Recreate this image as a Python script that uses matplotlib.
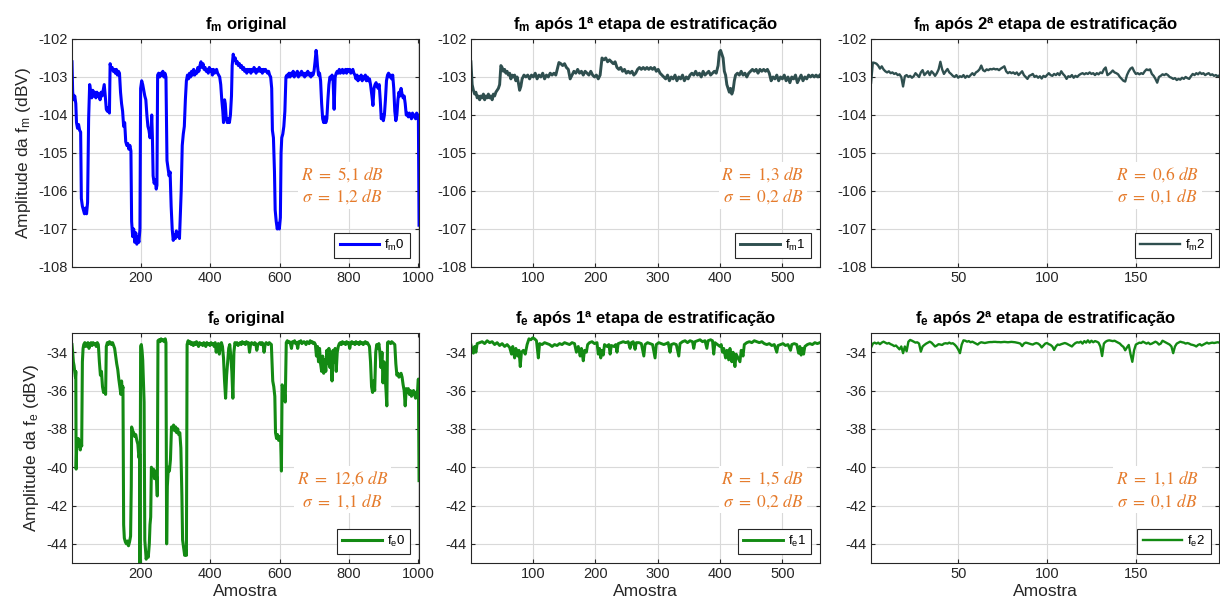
import numpy as np
import matplotlib
matplotlib.use("Agg")
import matplotlib.pyplot as plt

# ---------------- data ----------------
fm0_x = [1,3,6,9,12,14,17,20,23,26,28,31,34,37,40,43,46,49,52,55,58,61,64,67,70,73,76,79,82,85,88,91,94,97,
         100,103,106,109,111,114,117,120,123,126,129,132,135,138,141,144,147,150,153,156,159,162,165,168,171,
         173,176,179,182,185,188,191,194,197,199,202,205,208,211,214,217,220,223,226,229,231,233,235,238,241,244,
         246,248,251,254,257,260,263,266,269,272,275,278,281,284,287,290,293,296,299,302,305,308,311,314,316,319,
         322,325,328,331,334,337,340,343,346,349,352,355,358,361,364,367,370,373,376,379,382,385,388,391,394,397,
         400,403,406,409,412,415,418,421,424,427,430,433,436,438,441,443,446,449,452,455,458,461,463,466,469,472,
         475,478,481,484,487,490,493,496,499,502,505,508,511,514,517,520,523,526,529,532,535,538,541,544,547,550,
         553,556,559,562,565,568,571,574,577,579,582,585,587,590,593,596,599,602,604,606,609,612,615,618,621,624,
         627,630,633,636,639,642,645,648,651,654,657,660,663,666,669,672,675,678,681,684,687,690,693,696,699,702,
         705,707,709,712,715,718,721,724,727,730,733,736,739,742,745,748,751,754,757,760,763,766,769,772,775,778,
         781,784,787,790,793,796,799,802,805,808,811,814,817,820,823,826,829,832,835,838,841,844,847,850,853,856,
         859,862,866,869,872,875,878,881,884,887,890,893,896,899,902,905,908,911,914,917,920,923,926,929,932,935,
         938,941,944,947,950,953,956,959,962,965,968,971,974,977,980,983,986,989,992,995,998,1000,1002]
fm0_y = [-102.6,-103.4,-103.6,-103.5,-103.7,-104.2,-104.35,-104.25,-104.4,-104.45,-106.2,-106.4,-106.5,-106.6,
         -106.45,-106.6,-106.3,-104.1,-103.2,-103.4,-103.55,-103.35,-103.5,-103.4,-103.55,-103.4,-103.5,-103.45,
         -103.6,-103.4,-103.5,-103.35,-103.2,-103.5,-103.85,-103.9,-103.8,-103.95,-102.65,-102.8,-102.75,-102.85,
         -102.8,-102.9,-102.8,-102.95,-102.85,-102.9,-103.4,-103.7,-103.9,-104.3,-104.2,-104.7,-104.8,-104.75,
         -104.9,-104.8,-104.95,-106.8,-107.2,-107.0,-107.35,-107.1,-107.4,-107.2,-107.35,-107.0,-103.3,-103.1,
         -103.2,-103.35,-103.5,-103.6,-104.0,-104.3,-104.4,-104.6,-104.45,-104.0,-104.6,-105.6,-105.8,-105.7,
         -105.95,-105.85,-102.95,-102.9,-103.0,-102.9,-102.95,-102.85,-103.0,-102.9,-103.0,-105.2,-105.4,-105.6,
         -105.5,-106.4,-107.0,-107.3,-107.15,-107.25,-107.05,-107.2,-107.1,-107.25,-106.5,-106.0,-104.8,-104.5,
         -104.3,-103.6,-103.1,-102.95,-103.05,-102.9,-103.0,-102.85,-102.95,-102.8,-102.95,-102.85,-102.9,-102.75,
         -102.85,-102.7,-102.6,-102.75,-102.65,-102.8,-102.75,-102.85,-102.8,-102.9,-102.75,-102.85,-102.8,
         -102.95,-102.8,-102.9,-102.85,-102.8,-102.9,-102.95,-103.0,-103.2,-103.6,-103.9,-104.2,-103.6,-103.7,
         -104.1,-104.2,-104.1,-104.2,-104.0,-103.5,-102.7,-102.4,-102.55,-102.5,-102.65,-102.6,-102.7,-102.65,
         -102.75,-102.7,-102.8,-102.75,-102.85,-102.8,-102.9,-102.8,-102.85,-102.8,-102.9,-102.8,-102.85,-102.75,
         -102.8,-102.9,-102.8,-102.85,-102.75,-102.85,-102.8,-102.9,-102.8,-102.85,-102.8,-102.85,-102.9,-102.85,
         -102.95,-103.0,-103.3,-104.4,-104.6,-105.5,-106.5,-106.8,-107.0,-106.85,-107.0,-106.7,-105.0,-104.6,
         -104.5,-104.3,-103.9,-103.0,-102.95,-103.0,-102.9,-103.0,-102.9,-102.95,-102.85,-103.0,-102.9,-102.95,
         -102.85,-103.0,-102.9,-102.95,-102.85,-102.95,-102.9,-103.0,-102.9,-102.95,-102.85,-102.95,-102.9,
         -103.0,-102.9,-102.95,-102.85,-102.6,-102.3,-102.45,-102.7,-102.95,-102.9,-103.1,-103.7,-104.1,-104.2,
         -104.05,-104.2,-104.1,-103.6,-103.2,-103.0,-103.05,-102.95,-103.1,-103.85,-103.0,-102.9,-102.85,-102.9,
         -102.8,-102.9,-102.85,-102.8,-102.9,-102.85,-102.8,-102.9,-102.8,-102.85,-102.8,-102.9,-102.85,-102.8,
         -102.9,-102.95,-103.05,-102.95,-103.1,-103.0,-103.05,-102.95,-103.1,-103.0,-103.05,-102.95,-103.1,-103.0,
         -103.1,-103.05,-103.2,-103.5,-103.75,-103.3,-103.2,-103.15,-103.25,-103.3,-103.2,-103.6,-104.1,-104.0,
         -104.15,-104.0,-103.6,-103.1,-102.95,-102.9,-103.0,-102.95,-103.05,-102.95,-103.3,-103.9,-104.15,-104.0,
         -103.6,-103.4,-103.5,-103.3,-103.45,-103.55,-103.5,-103.7,-104.0,-103.95,-104.05,-103.95,-104.0,-104.1,
         -103.95,-104.05,-104.0,-104.1,-103.95,-104.0,-104.05,-106.9]

fe0_x = [1,3,5,7,9,11,12,13,15,17,19,21,23,25,27,29,31,33,35,38,41,44,47,50,53,56,59,62,65,68,71,74,77,80,83,86,
         89,92,95,98,100,103,106,109,112,115,118,121,124,127,130,133,136,139,142,144,146,148,150,152,155,158,161,
         164,167,170,172,173,176,179,182,185,188,191,194,196,197,199,201,203,205,207,209,211,213,215,218,221,224,
         226,228,230,233,236,239,242,245,247,249,252,255,258,261,264,267,270,272,274,276,279,282,285,288,291,294,
         297,300,303,306,309,312,315,318,320,323,326,329,331,333,336,339,342,345,348,351,354,357,360,363,366,369,
         372,375,378,381,384,387,390,393,396,399,402,405,408,411,414,417,420,423,426,429,432,435,438,441,444,447,
         450,453,456,459,462,465,468,471,474,477,480,483,486,489,492,495,498,501,504,507,510,513,516,519,522,525,
         528,531,534,537,540,543,546,549,552,555,558,561,564,567,570,573,576,578,580,583,586,588,591,594,597,600,
         603,605,607,610,613,616,619,622,625,628,631,634,637,640,643,646,649,652,655,658,661,664,667,670,673,676,
         679,682,685,688,691,694,697,700,703,706,709,712,715,718,721,724,727,730,733,736,739,742,745,748,751,754,
         757,760,763,766,769,772,775,778,781,784,787,790,793,796,799,802,805,808,811,814,817,820,823,826,829,832,
         835,838,841,844,847,850,853,856,859,862,865,868,871,874,877,880,883,886,889,892,895,898,901,904,907,909,
         911,914,917,920,923,926,929,932,935,938,941,944,947,950,953,956,959,962,965,968,971,974,977,980,983,986,
         989,992,995,998,1000,1002]
fe0_y = [-33.6,-34.0,-34.5,-34.7,-35.0,-35.3,-35.0,-40.1,-38.6,-38.8,-38.5,-38.9,-38.7,-39.1,-38.6,-38.9,-34.5,
         -33.8,-33.6,-33.5,-33.7,-33.55,-33.5,-33.8,-33.6,-33.5,-33.65,-33.5,-33.6,-33.55,-33.7,-33.5,-33.6,-34.5,
         -35.2,-35.0,-35.8,-36.1,-36.0,-36.2,-33.7,-33.5,-33.6,-33.45,-33.5,-33.6,-33.5,-33.65,-33.8,-34.2,-34.6,
         -34.9,-35.4,-35.8,-36.2,-35.5,-36.0,-35.8,-43.0,-43.7,-43.9,-44.0,-43.85,-44.1,-43.9,-43.6,-41.0,-37.9,
         -38.1,-38.2,-38.4,-38.3,-38.6,-38.8,-39.5,-39.3,-45.3,-33.7,-33.6,-33.9,-34.4,-35.5,-36.6,-43.8,-44.3,
         -44.8,-44.5,-44.7,-44.0,-43.0,-42.6,-40.0,-40.3,-40.1,-40.6,-40.2,-40.5,-41.5,-33.4,-33.35,-33.45,-33.3,
         -33.4,-33.35,-33.45,-33.3,-33.5,-44.0,-41.0,-40.0,-40.2,-39.6,-37.9,-38.0,-37.8,-38.1,-37.9,-38.2,-38.0,
         -38.3,-38.2,-39.0,-41.5,-43.8,-44.2,-44.6,-44.3,-44.6,-33.6,-33.4,-33.55,-33.45,-33.6,-33.5,-33.65,-33.5,
         -33.6,-33.45,-33.55,-33.7,-33.5,-33.6,-33.55,-33.65,-33.5,-33.6,-33.7,-33.5,-33.6,-33.55,-33.65,-33.5,
         -33.6,-33.55,-33.7,-33.5,-34.0,-33.6,-33.55,-34.1,-33.6,-33.5,-33.7,-34.3,-35.5,-36.4,-35.2,-34.5,-33.8,
         -33.6,-34.2,-35.0,-36.4,-34.0,-33.5,-33.6,-33.5,-33.65,-33.55,-33.5,-33.6,-33.45,-33.55,-33.5,-33.6,
         -33.45,-33.55,-33.5,-34.0,-33.6,-33.5,-33.55,-33.6,-33.5,-33.55,-33.9,-33.6,-33.55,-33.5,-33.6,-33.5,
         -33.55,-34.0,-33.6,-33.5,-33.55,-33.6,-33.5,-33.55,-33.6,-34.5,-35.5,-35.8,-36.3,-38.2,-38.5,-38.3,-38.6,
         -38.4,-38.7,-40.2,-35.7,-35.9,-36.0,-36.6,-33.5,-33.4,-33.5,-33.45,-33.55,-33.8,-33.45,-33.5,-33.4,
         -33.55,-33.5,-33.8,-33.45,-33.5,-33.4,-33.55,-33.5,-33.45,-33.5,-33.6,-33.45,-33.5,-33.55,-33.4,-33.5,
         -33.45,-33.55,-33.5,-33.6,-34.2,-33.7,-34.5,-33.8,-34.6,-35.0,-34.2,-35.1,-34.4,-35.0,-33.9,-34.6,-33.8,
         -34.8,-34.0,-35.5,-33.9,-34.5,-33.8,-35.0,-34.0,-33.7,-33.55,-33.5,-33.6,-33.45,-33.55,-33.5,-33.6,-33.45,
         -33.55,-33.5,-33.8,-33.5,-33.45,-33.55,-33.5,-33.6,-33.45,-33.55,-33.5,-33.6,-33.45,-33.55,-33.5,-33.6,
         -33.5,-33.45,-33.55,-33.5,-33.6,-33.7,-34.5,-35.8,-36.1,-35.5,-36.0,-34.0,-33.6,-33.8,-33.55,-34.0,-34.8,
         -34.0,-35.6,-34.5,-35.2,-36.1,-36.8,-33.5,-33.45,-33.5,-33.55,-33.45,-33.5,-33.55,-33.6,-34.6,-35.2,
         -35.1,-35.3,-35.2,-35.1,-35.3,-35.7,-36.0,-36.8,-35.9,-36.1,-35.9,-36.2,-36.0,-36.3,-36.1,-36.0,-36.2,
         -36.4,-36.1,-36.0,-35.4,-40.7]

fm1_x = [1,3,5,7,9,11,13,15,17,19,21,23,25,27,29,31,33,35,37,39,41,43,45,47,49,51,53,55,57,59,61,63,65,67,69,71,
         73,75,77,79,81,83,86,89,92,95,98,101,104,107,110,113,116,119,122,125,128,131,134,137,140,142,145,148,151,
         154,157,160,163,166,169,172,175,178,181,184,187,190,193,196,199,202,205,208,211,214,217,220,223,226,229,
         232,235,238,241,244,247,250,253,256,259,262,265,268,271,274,277,280,283,286,289,292,295,298,301,304,307,
         310,313,316,319,322,325,328,331,334,337,340,343,346,349,352,355,358,361,364,367,370,373,376,379,382,385,
         388,391,394,397,399,401,403,405,407,409,411,413,415,417,419,421,423,425,428,431,434,437,440,443,446,449,
         452,455,458,461,464,467,470,473,476,479,482,485,488,491,494,497,500,503,506,509,512,515,518,521,524,527,
         530,533,536,539,542,545,548,551,554,557,560]
fm1_y = [-102.6,-103.2,-103.35,-103.45,-103.4,-103.55,-103.5,-103.6,-103.5,-103.55,-103.45,-103.6,-103.5,-103.55,
         -103.45,-103.55,-103.5,-103.6,-103.45,-103.5,-103.4,-103.35,-103.3,-103.2,-102.7,-102.75,-102.85,-102.8,
         -102.9,-102.85,-102.95,-102.9,-103.05,-102.95,-103.0,-102.95,-103.1,-103.0,-103.15,-103.35,-103.25,-103.05,
         -102.95,-103.0,-102.95,-103.05,-102.95,-103.0,-102.9,-103.05,-102.95,-103.0,-102.9,-103.05,-102.95,-103.0,
         -102.9,-102.95,-102.9,-102.95,-102.75,-102.62,-102.65,-102.7,-102.65,-102.75,-102.8,-103.05,-102.95,
         -102.85,-102.9,-102.8,-102.9,-102.85,-102.95,-102.85,-102.9,-102.95,-102.85,-102.95,-103.0,-102.95,
         -103.05,-102.95,-102.5,-102.55,-102.5,-102.6,-102.55,-102.6,-102.65,-102.6,-102.75,-102.8,-102.75,-102.85,
         -102.8,-102.9,-102.85,-102.9,-102.85,-102.95,-102.9,-102.8,-102.75,-102.8,-102.75,-102.8,-102.75,-102.8,
         -102.75,-102.8,-102.75,-102.85,-102.8,-102.9,-102.95,-103.0,-103.05,-102.95,-103.1,-103.0,-103.05,-102.95,
         -103.1,-103.0,-103.05,-102.95,-103.1,-103.0,-103.05,-102.95,-102.9,-102.95,-102.85,-102.95,-102.9,-103.0,
         -102.85,-102.95,-102.9,-102.85,-102.95,-102.9,-102.85,-102.9,-102.7,-102.35,-102.3,-102.4,-102.5,-102.85,
         -102.95,-103.2,-103.3,-103.4,-103.3,-103.45,-103.35,-103.1,-102.95,-102.9,-102.95,-102.85,-102.95,-102.9,
         -103.0,-102.9,-102.85,-102.8,-102.85,-102.8,-102.9,-102.8,-102.85,-102.8,-102.85,-102.8,-102.9,-103.1,
         -103.0,-103.05,-102.95,-103.1,-103.0,-103.05,-102.95,-103.1,-103.0,-103.15,-103.0,-103.05,-102.95,-103.15,
         -103.05,-102.95,-103.1,-103.0,-103.05,-102.95,-103.0,-102.95,-103.0,-102.95,-103.0,-102.95]

fe1_x = [1,3,5,7,9,11,15,19,23,27,31,35,39,43,47,51,55,59,63,66,68,71,73,76,78,80,82,85,88,91,94,97,100,103,106,
         109,111,115,119,123,127,131,135,139,143,147,151,155,159,163,167,170,173,176,178,181,183,186,188,191,195,
         199,203,205,207,209,211,213,215,219,222,224,226,230,233,235,237,241,245,249,253,256,258,261,264,266,270,
         274,278,280,284,288,292,296,298,302,306,310,314,317,320,322,326,330,334,336,340,344,348,352,356,358,360,
         364,368,372,376,379,381,385,388,390,392,396,400,402,404,406,409,411,414,416,419,421,424,426,429,432,434,
         437,439,443,447,451,455,459,463,467,471,475,479,483,487,491,493,497,501,505,509,513,515,519,523,526,528,
         530,532,534,536,540,544,548,552,556,560]
fe1_y = [-33.6,-33.9,-34.05,-33.7,-34.0,-33.55,-33.5,-33.45,-33.55,-33.4,-33.5,-33.45,-33.6,-33.5,-33.65,-33.55,
         -33.7,-33.6,-33.75,-34.1,-33.7,-34.3,-33.8,-34.2,-33.9,-34.75,-34.0,-33.9,-34.1,-33.6,-33.3,-33.35,-33.25,
         -33.3,-33.4,-34.3,-33.55,-33.6,-33.5,-33.55,-33.6,-33.7,-33.6,-33.65,-33.55,-33.6,-33.5,-33.55,-33.6,-33.5,
         -33.55,-34.0,-33.7,-34.2,-33.8,-34.45,-33.9,-34.0,-33.6,-33.5,-33.45,-33.55,-33.5,-34.1,-33.8,-34.3,-33.9,
         -34.15,-33.6,-33.7,-33.6,-34.1,-33.65,-33.7,-33.6,-34.0,-33.55,-33.5,-33.45,-33.5,-33.45,-33.8,-33.5,
         -33.45,-33.85,-33.5,-33.5,-33.55,-34.2,-33.6,-33.5,-33.55,-33.6,-34.3,-33.6,-33.5,-33.55,-33.6,-33.55,
         -33.5,-34.0,-33.6,-33.55,-33.6,-34.2,-33.55,-33.45,-33.4,-33.5,-33.4,-33.45,-33.8,-33.45,-33.4,-33.35,
         -33.45,-33.4,-33.8,-33.4,-33.35,-33.4,-34.1,-33.5,-33.6,-33.7,-33.6,-34.0,-33.8,-34.3,-33.9,-34.4,-33.8,
         -34.5,-34.0,-34.75,-34.1,-34.3,-34.5,-33.9,-34.2,-33.6,-33.5,-33.45,-33.5,-33.4,-33.45,-33.5,-33.45,-33.55,
         -33.6,-33.55,-33.65,-33.6,-34.0,-33.65,-33.6,-33.55,-33.65,-33.6,-33.9,-33.6,-33.55,-33.6,-34.05,-33.7,
         -34.15,-33.8,-34.1,-33.7,-33.6,-33.55,-33.6,-33.5,-33.55,-33.5]

fm2_y = [-103.15,-102.62,-102.63,-102.65,-102.7,-102.78,-102.72,-102.8,-102.85,-102.88,-102.85,-102.9,-102.88,
         -102.92,-102.9,-102.95,-102.93,-103.0,-103.25,-102.98,-102.95,-103.0,-102.97,-103.02,-102.98,-102.9,
         -102.95,-103.0,-102.88,-102.82,-102.95,-102.9,-102.85,-102.95,-102.85,-102.9,-102.97,-102.9,-102.8,-102.6,
         -102.8,-102.92,-102.85,-102.79,-102.88,-102.92,-102.97,-103.0,-102.95,-103.02,-102.98,-103.0,-102.95,
         -103.02,-102.97,-103.0,-102.95,-102.9,-102.95,-102.88,-102.85,-102.8,-102.7,-102.82,-102.85,-102.8,
         -102.82,-102.79,-102.8,-102.78,-102.8,-102.79,-102.82,-102.78,-102.75,-102.72,-102.85,-102.9,-102.87,
         -102.9,-102.88,-102.92,-102.88,-102.95,-102.9,-102.85,-102.95,-103.0,-103.05,-102.97,-102.95,-102.92,
         -103.0,-102.97,-103.02,-102.98,-103.04,-102.97,-103.0,-102.95,-102.9,-102.95,-102.97,-102.92,-102.95,
         -102.9,-102.95,-102.85,-102.92,-102.97,-103.05,-102.98,-103.0,-102.95,-103.02,-102.97,-103.0,-102.95,
         -102.92,-102.9,-102.93,-102.9,-102.92,-102.88,-102.92,-102.9,-102.95,-102.9,-102.93,-102.88,-102.9,
         -102.8,-102.75,-102.95,-102.92,-102.88,-102.83,-102.88,-102.9,-102.93,-103.0,-103.05,-103.1,-103.12,
         -102.95,-102.85,-102.78,-102.75,-102.85,-102.92,-102.9,-102.93,-102.9,-102.92,-102.85,-102.8,-102.82,
         -102.8,-102.92,-102.97,-103.05,-103.15,-103.0,-102.97,-102.93,-102.95,-102.92,-102.95,-103.0,-103.02,
         -103.05,-103.03,-103.08,-103.05,-103.07,-103.02,-103.05,-103.0,-103.03,-103.05,-102.98,-102.92,-102.95,
         -102.9,-102.93,-102.88,-102.92,-102.9,-102.95,-102.92,-102.9,-102.95,-102.93,-102.97,-102.95,-102.98,
         -102.96]

fe2_y = [-33.75,-33.55,-33.5,-33.55,-33.5,-33.58,-33.5,-33.45,-33.5,-33.55,-33.52,-33.58,-33.62,-33.68,-33.65,
         -33.75,-33.85,-33.7,-34.05,-33.7,-33.95,-33.45,-33.36,-33.4,-33.45,-33.5,-33.48,-33.55,-33.97,-33.7,
         -33.62,-33.55,-33.5,-33.45,-33.5,-33.6,-33.7,-33.65,-33.58,-33.6,-33.62,-33.55,-33.53,-33.55,-33.5,
         -33.55,-33.53,-33.6,-33.7,-33.85,-34.05,-33.6,-33.38,-33.4,-33.45,-33.42,-33.48,-33.45,-33.5,-33.55,
         -33.6,-33.52,-33.48,-33.5,-33.52,-33.5,-33.48,-33.47,-33.47,-33.46,-33.46,-33.47,-33.47,-33.48,-33.47,
         -33.46,-33.47,-33.48,-33.47,-33.46,-33.47,-33.48,-33.5,-33.52,-33.55,-33.68,-33.55,-33.5,-33.52,-33.55,
         -33.58,-33.6,-33.55,-33.52,-33.55,-33.62,-33.75,-33.65,-33.55,-33.52,-33.58,-33.62,-33.7,-33.88,-33.7,
         -33.6,-33.62,-33.58,-33.55,-33.52,-33.55,-33.6,-33.65,-33.7,-33.6,-33.52,-33.48,-33.5,-33.45,-33.55,
         -33.42,-33.5,-33.38,-33.5,-33.4,-33.48,-33.42,-33.45,-33.5,-33.7,-34.2,-33.55,-33.45,-33.4,-33.38,-33.4,
         -33.42,-33.4,-33.45,-33.5,-33.55,-33.65,-33.72,-33.9,-33.75,-33.62,-34.1,-34.5,-33.9,-33.6,-33.55,-33.5,
         -33.52,-33.45,-33.5,-33.55,-33.5,-33.58,-33.55,-33.5,-33.45,-33.5,-33.6,-33.55,-33.4,-33.45,-33.5,-33.55,
         -33.6,-33.7,-34.05,-33.7,-33.55,-33.5,-33.45,-33.48,-33.5,-33.55,-33.52,-33.55,-33.6,-33.62,-33.65,-33.7,
         -33.62,-33.58,-33.65,-33.6,-33.55,-33.5,-33.55,-33.52,-33.5,-33.52,-33.5,-33.48,-33.5]

titles = [r"$\mathbf{f_m}$ original",
          r"$\mathbf{f_m}$ após 1ª etapa de estratificação",
          r"$\mathbf{f_m}$ após 2ª etapa de estratificação",
          r"$\mathbf{f_e}$ original",
          r"$\mathbf{f_e}$ após 1ª etapa de estratificação",
          r"$\mathbf{f_e}$ após 2ª etapa de estratificação"]
legend_labels = [r"f$_\mathrm{m}$0", r"f$_\mathrm{m}$1", r"f$_\mathrm{m}$2",
                 r"f$_\mathrm{e}$0", r"f$_\mathrm{e}$1", r"f$_\mathrm{e}$2"]
R_vals = ["5{,}1", "1{,}3", "0{,}6", "12{,}6", "1{,}5", "1{,}1"]
S_vals = ["1{,}2", "0{,}2", "0{,}1", "1{,}1", "0{,}2", "0{,}1"]
ylabels = [r"Amplitude da f$_\mathrm{m}$ (dBV)", r"Amplitude da f$_\mathrm{e}$ (dBV)"]
xlabel = "Amostra"
top_yticks = [-102, -103, -104, -105, -106, -107, -108]
bot_yticks = [-34, -36, -38, -40, -42, -44]
xticks_cols = [[200, 400, 600, 800, 1000], [100, 200, 300, 400, 500], [50, 100, 150]]
xlims = [(1, 1002), (1, 560), (1, 197)]

# ---------------- style ----------------
plt.rcParams['font.family'] = ['Liberation Sans', 'DejaVu Sans']
plt.rcParams['mathtext.fontset'] = 'custom'
plt.rcParams['mathtext.rm'] = 'Liberation Sans'
plt.rcParams['mathtext.it'] = 'Liberation Sans:italic'
plt.rcParams['mathtext.bf'] = 'Liberation Sans:bold'
plt.rcParams['axes.unicode_minus'] = False

BLUE = '#0000FF'
DARK = '#2F4F4F'
GREEN = '#138A13'
ORANGE = '#E57B2C'

fig = plt.figure(figsize=(12.2, 6.1), dpi=100)
lefts = [0.059, 0.386, 0.714]
widths = [0.2845, 0.286, 0.2855]
bottoms = [0.5623, 0.077]
heights = [0.3738, 0.377]

series = [
    (fm0_x, fm0_y, BLUE, 2.2),
    (fm1_x, fm1_y, DARK, 2.1),
    (list(range(1, len(fm2_y) + 1)), fm2_y, DARK, 1.7),
    (fe0_x, fe0_y, GREEN, 2.2),
    (fe1_x, fe1_y, GREEN, 2.1),
    (list(range(1, len(fe2_y) + 1)), fe2_y, GREEN, 1.7),
]

for k in range(6):
    r, c = divmod(k, 3)
    ax = fig.add_axes([lefts[c], bottoms[r], widths[c], heights[r]])
    xs, ys, col, lw = series[k]
    ax.plot(xs, ys, color=col, lw=lw, label=legend_labels[k])
    ax.set_xlim(*xlims[c])
    ax.set_xticks(xticks_cols[c])
    if r == 0:
        ax.set_ylim(-108, -102)
        ax.set_yticks(top_yticks)
    else:
        ax.set_ylim(-45, -33)
        ax.set_yticks(bot_yticks)
        ax.set_xlabel(xlabel, fontsize=12.5, color='#262626', labelpad=2)
    if c == 0:
        ax.set_ylabel(ylabels[r], fontsize=12.5, color='#262626', labelpad=4)
    ax.set_title(titles[k], fontsize=12, fontweight='bold', pad=7)
    ax.grid(True, color='#d9d9d9', lw=0.8)
    ax.set_axisbelow(True)
    ax.tick_params(direction='in', top=True, right=True, length=3,
                   labelsize=10.5, colors='#262626', pad=3)
    for sp in ax.spines.values():
        sp.set_color('#262626')
        sp.set_linewidth(0.8)
    leg = ax.legend(loc='lower right', fontsize=9.5, handlelength=3.0, frameon=True,
                    fancybox=False, edgecolor='#262626', framealpha=1,
                    borderaxespad=0.65, handletextpad=0.4, borderpad=0.4)
    leg.get_frame().set_linewidth(0.8)
    ann = (r"$R\ =\ " + R_vals[k] + r"\ dB$" + "\n" +
           r"$\sigma\ =\ " + S_vals[k] + r"\ dB$")
    ty = 0.358 if r == 0 else 0.318
    tx = [0.78, 0.837, 0.822][c]
    ax.text(tx, ty, ann, transform=ax.transAxes, ha='center', va='center',
            color=ORANGE, fontsize=12.5, math_fontfamily='stix', linespacing=1.25,
            bbox=dict(facecolor='white', edgecolor='none', pad=2))

fig.savefig("out.png", dpi=100)
